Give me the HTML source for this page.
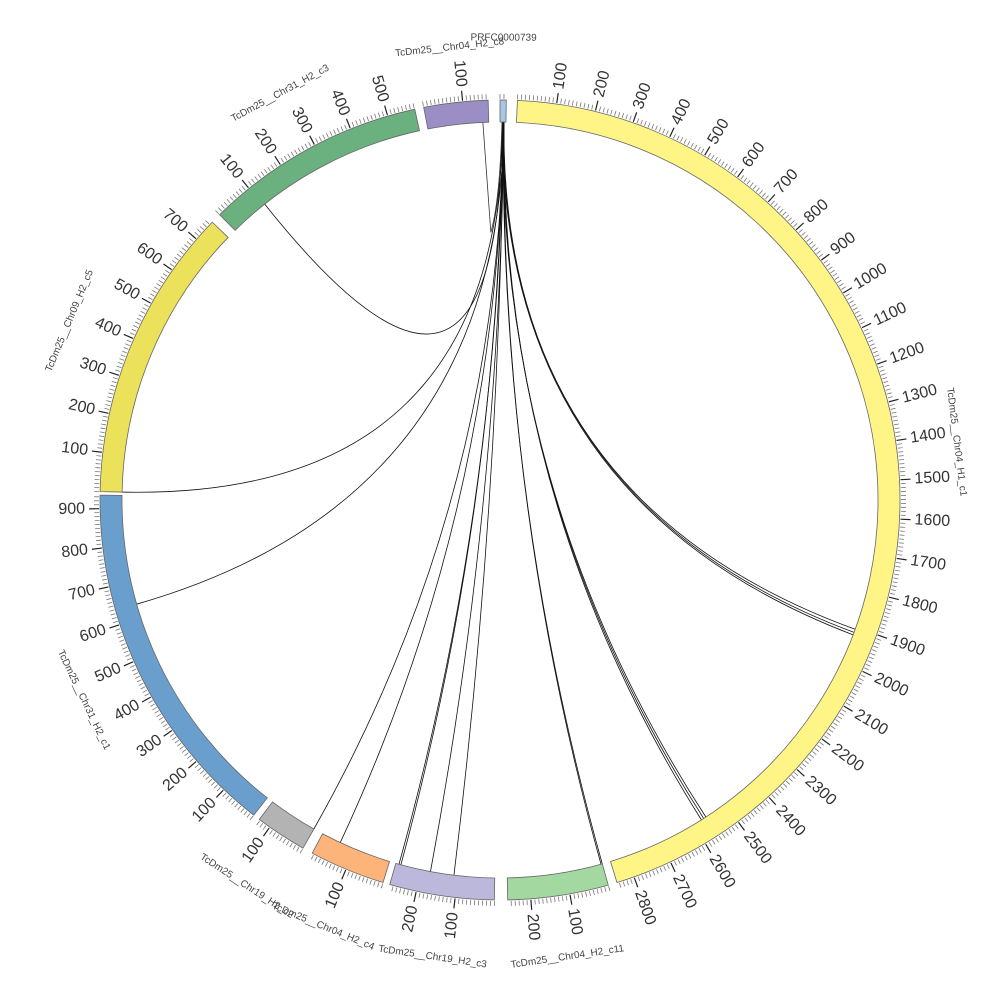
<!DOCTYPE html>
<html><head><meta charset="utf-8"><style>
html,body{margin:0;padding:0;background:#fff;}
svg{display:block;font-family:"Liberation Sans",sans-serif;}
</style></head><body>
<svg id="s" width="1000" height="1000" viewBox="0 0 1000 1000" xmlns="http://www.w3.org/2000/svg"></svg>
<script>
var S=document.getElementById('s'),NS='http://www.w3.org/2000/svg';
var cx=500,cy=500,ri=378,ro=400,k=0.0564;
function el(t,a,txt){var e=document.createElementNS(NS,t);for(var n in a)e.setAttribute(n,a[n]);if(txt!==undefined)e.textContent=txt;S.appendChild(e);return e;}
function pt(a,r){var t=(a-90)*Math.PI/180;return [cx+r*Math.cos(t),cy+r*Math.sin(t)];}
var segs=[
 {n:'PRFC0000739',a0:0.0,a1:0.9,c:'#a6c8e4',rev:0,lr:462},
 {n:'TcDm25__Chr04_H1_c1',a0:2.5,a1:163,c:'#fff587',rev:0,lr:460},
 {n:'TcDm25__Chr04_H2_c11',a0:164.3,a1:178.9,c:'#a3d8a0',rev:0,lr:462},
 {n:'TcDm25__Chr19_H2_c3',a0:180.8,a1:196,c:'#bcb8dc',rev:0,lr:462},
 {n:'TcDm25__Chr04_H2_c4',a0:197,a1:208,c:'#fdb47a',rev:0,lr:462},
 {n:'TcDm25__Chr19_H2_c2',a0:209.5,a1:217,c:'#b3b3b3',rev:0,lr:462},
 {n:'TcDm25__Chr31_H2_c1',a0:218,a1:270.7,c:'#6a9fcd',rev:0,lr:462},
 {n:'TcDm25__Chr09_H2_c5',a0:271.2,a1:314,c:'#ebe15a',rev:0,lr:466},
 {n:'TcDm25__Chr31_H2_c3',a0:315.5,a1:347.7,c:'#6bb07f',rev:0,lr:462},
 {n:'TcDm25__Chr04_H2_c8',a0:349,a1:358.3,c:'#9b8ec4',rev:0,lr:455}
];
var links=[[0.3,321.5],[0.4,271.2],[0.6,254],[0.5,209.5],[0.5,205],[0.4,195.2],[0.5,195.5],[0.6,190.6],[0.5,187],[0.5,164.3],[0.6,164.5],[0.4,147],[0.5,147.4],[0.6,147.8],[0.5,110],[0.6,110.5],[0.4,110.9]];
links.forEach(function(l){var p=pt(l[0],ri),q=pt(l[1],ri);
 el('path',{d:'M'+p[0]+','+p[1]+' Q'+cx+','+cy+' '+q[0]+','+q[1],fill:'none',stroke:'#111','stroke-width':0.8});});
var a=pt(357.4,ri),b=pt(0.3,ri);
el('path',{d:'M'+a[0]+','+a[1]+' L'+(a[0]+8)+','+(a[1]+110)+' Q500,200 '+b[0]+','+b[1],fill:'none',stroke:'#333','stroke-width':0.8});
segs.forEach(function(s){
 var a=pt(s.a0,ri),b=pt(s.a0,ro),c=pt(s.a1,ro),d=pt(s.a1,ri),lg=(s.a1-s.a0)>180?1:0;
 el('path',{d:'M'+a+' L'+b+' A'+ro+','+ro+' 0 '+lg+' 1 '+c+' L'+d+' A'+ri+','+ri+' 0 '+lg+' 0 '+a+'Z',fill:s.c,stroke:'#666','stroke-width':0.8});
 var len=(s.a1-s.a0)/k;
 for(var u=0;u<=len;u+=10){
  var ang=s.rev?s.a1-u*k:s.a0+u*k;var maj=(u%100==0)&&u>0;
  var p1=pt(ang,ro+1),p2=pt(ang,ro+(maj?11:6));
  el('line',{x1:p1[0],y1:p1[1],x2:p2[0],y2:p2[1],stroke:maj?'#222':'#777','stroke-width':maj?1.2:0.8});
  if(maj){var lp=pt(ang,ro+15);var rot,anc;
   if(ang<180){rot=ang-90;anc='start';}else{rot=ang-270;anc='end';}
   el('text',{x:lp[0],y:lp[1],'font-size':16,fill:'#333','text-anchor':anc,'dominant-baseline':'central',transform:'rotate('+rot+' '+lp[0]+' '+lp[1]+')'},String(u));}
 }
 var m=(s.a0+s.a1)/2,np=pt(m,s.lr),r2=(m>90&&m<270)?m-180:m;
 el('text',{x:np[0],y:np[1],'font-size':10,fill:'#444','text-anchor':'middle','dominant-baseline':'central',transform:'rotate('+r2+' '+np[0]+' '+np[1]+')'},s.n);
});
</script>
</body></html>
